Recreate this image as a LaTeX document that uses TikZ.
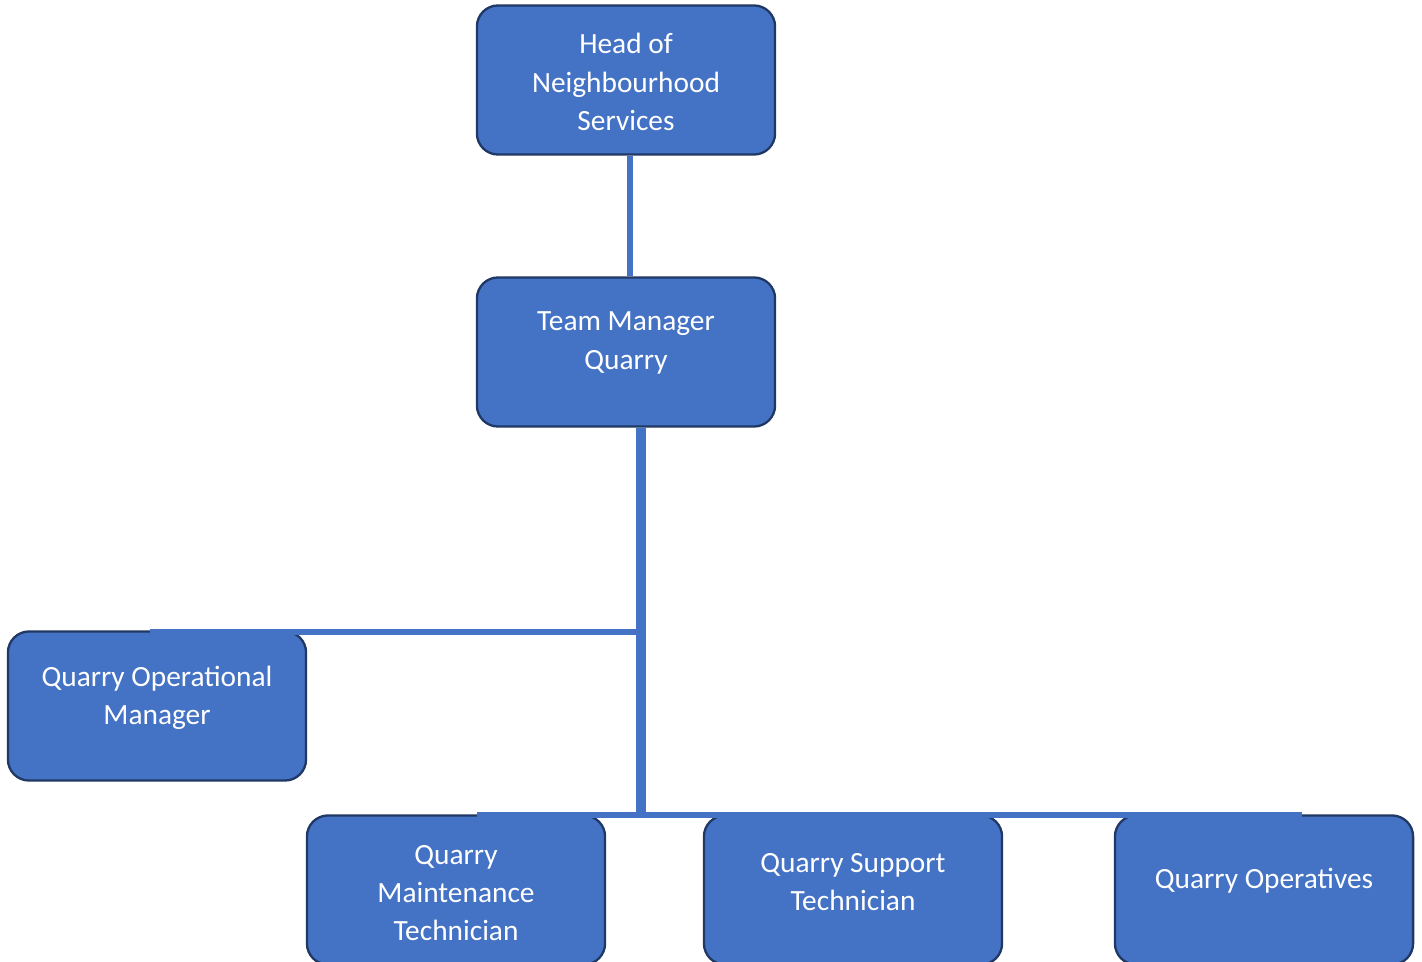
\documentclass[tikz,border=0pt]{standalone}
\usepackage{fontspec}
\setmainfont{Carlito}
\definecolor{boxblue}{HTML}{4472C4}
\definecolor{boxedge}{HTML}{1F3864}
\begin{document}
\begin{tikzpicture}[x=0.01cm,y=-0.01cm,
  box/.style={draw=boxedge,line width=0.65pt,fill=boxblue,rounded corners=6pt,
    minimum width=2.98cm,minimum height=1.49cm,inner sep=0pt},
  txt/.style={text=white,align=center,font=\fontsize{8.35}{10.9}\selectfont,inner sep=0pt},
  conn/.style={draw=boxblue,line width=1.6pt},
  thick conn/.style={draw=boxblue,line width=2.8pt},
  bar/.style={draw=boxblue,line width=1.5pt}]
\useasboundingbox (0,0) rectangle (1422,961);
% boxes
\node[box] (head) at (626,80) {};
\node[box] (tm) at (626,352) {};
\node[box] (qom) at (157,706) {};
\node[box] (qmt) at (456,890) {};
\node[box] (qst) at (853,890) {};
\node[box] (qo) at (1264,890) {};
% texts
\node[txt] (thead) at (626,82) {Head of\\Neighbourhood\\Services};
\node[txt] (ttm) at (626,343) {Team Manager\\Quarry};
\node[txt] (tqom) at (157,698) {Quarry Operational\\Manager};
\node[txt] (tqmt) at (456,893) {Quarry\\Maintenance\\Technician};
\node[txt] (tqst) at (853,882) {Quarry Support\\Technician};
\node[txt] (tqo) at (1264,881) {Quarry Operatives};
% connector coordinates
\coordinate (j1) at (641,632);
\coordinate (j2) at (641,815);
\coordinate (lq) at (150,632);
\coordinate (lb) at (477,815);
\coordinate (rb) at (1302,815);
% connectors
\draw[conn] ([xshift=0.04cm]head.south) -- ([xshift=0.04cm]tm.north);
\draw[thick conn] ([xshift=0.15cm]tm.south) -- (j2);
\draw[bar] (lq) -- ([xshift=-0.05cm]j1);
\draw[bar] (lb) -- (rb);
\end{tikzpicture}
\end{document}
